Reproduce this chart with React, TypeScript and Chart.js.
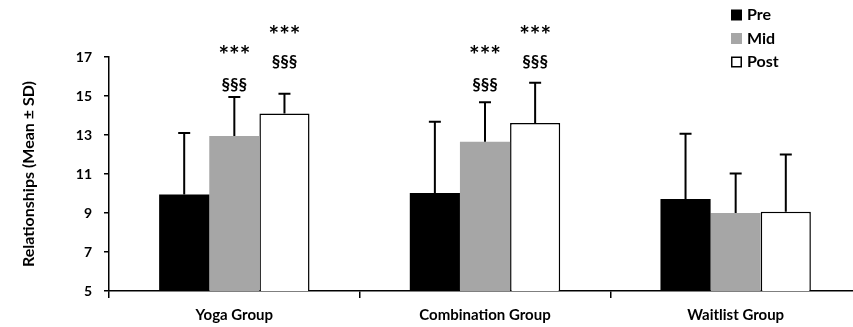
import React, { useEffect, useRef } from "react";
import { Chart, registerables } from "chart.js";

Chart.register(...registerables);

const categories = ["Yoga Group", "Combination Group", "Waitlist Group"];
const seriesNames = ["Pre", "Mid", "Post"];
const preMeans = [9.95, 10.02, 9.72];
const midMeans = [12.95, 12.66, 9.0];
const postMeans = [14.1, 13.62, 9.07];
const preSD = [3.15, 3.66, 3.35];
const midSD = [2.0, 2.02, 2.02];
const postSD = [1.02, 2.06, 2.93];
const midStars = ["***", "***", ""];
const midSections = ["§§§", "§§§", ""];
const postStars = ["***", "***", ""];
const postSections = ["§§§", "§§§", ""];
const yTicks = [5, 7, 9, 11, 13, 15, 17];

const FONT = "Lato, 'Open Sans', sans-serif";

export default function App() {
  const ref = useRef<HTMLCanvasElement | null>(null);

  useEffect(() => {
    const canvas = ref.current;
    if (!canvas) return;
    const sds = [preSD, midSD, postSD];
    const annotations = [
      null,
      { stars: midStars, sections: midSections, starLevel: 17.3, sectionLevel: 15.6 },
      { stars: postStars, sections: postSections, starLevel: 18.35, sectionLevel: 16.75 },
    ];
    const fills = ["#000000", "#a6a6a6", "#ffffff"];

    const overlay = {
      id: "overlay",
      afterDatasetsDraw(chart: any) {
        const ctx = chart.ctx;
        const y = chart.scales.y;
        ctx.save();
        chart.data.datasets.forEach((ds: any, i: number) => {
          const meta = chart.getDatasetMeta(i);
          meta.data.forEach((el: any, j: number) => {
            const v = ds.data[j];
            const top = y.getPixelForValue(v + sds[i][j]);
            const base = y.getPixelForValue(v);
            ctx.strokeStyle = "#000";
            ctx.lineWidth = 2;
            ctx.beginPath();
            ctx.moveTo(el.x, base);
            ctx.lineTo(el.x, top);
            ctx.moveTo(el.x - 6, top);
            ctx.lineTo(el.x + 6, top);
            ctx.stroke();
            const a = annotations[i];
            if (a) {
              ctx.fillStyle = "#000";
              ctx.textAlign = "center";
              ctx.textBaseline = "middle";
              if (a.stars[j]) {
                ctx.font = `bold 25px ${FONT}`;
                ctx.fillText(a.stars[j], el.x, y.getPixelForValue(a.starLevel) + 5);
              }
              if (a.sections[j]) {
                ctx.font = `bold 17px ${FONT}`;
                ctx.fillText(a.sections[j], el.x, y.getPixelForValue(a.sectionLevel));
              }
            }
          });
        });
        ctx.restore();
      },
      afterDraw(chart: any) {
        const ctx = chart.ctx;
        ctx.save();
        const lx = 731;
        chart.data.datasets.forEach((ds: any, i: number) => {
          const cy = 15 + i * 23.5;
          ctx.fillStyle = ds.backgroundColor;
          ctx.fillRect(lx, cy - 5.5, 11, 11);
          if (ds.borderWidth) {
            ctx.strokeStyle = "#000";
            ctx.lineWidth = 1.5;
            ctx.strokeRect(lx + 0.75, cy - 4.75, 9.5, 9.5);
          }
          ctx.fillStyle = "#000";
          ctx.font = `bold 16px ${FONT}`;
          ctx.textAlign = "left";
          ctx.textBaseline = "middle";
          ctx.fillText(ds.label, lx + 16, cy);
        });
        ctx.restore();
      },
    };

    const chart = new Chart(canvas, {
      type: "bar",
      data: {
        labels: categories,
        datasets: [preMeans, midMeans, postMeans].map((d, i) => ({
          label: seriesNames[i],
          data: d,
          backgroundColor: fills[i],
          borderColor: "#000",
          borderWidth: i === 2 ? 1.5 : 0,
          barPercentage: 1,
          categoryPercentage: 0.6,
        })),
      },
      options: {
        responsive: false,
        animation: false,
        layout: { padding: { top: 57, left: 0, right: 0, bottom: 0 } },
        plugins: { legend: { display: false }, tooltip: { enabled: false } },
        scales: {
          x: {
            afterFit(scale: any) {
              scale.height = 36;
            },
            grid: {
              display: true,
              offset: true,
              drawOnChartArea: false,
              drawTicks: true,
              tickLength: 7,
              color: "#000",
              lineWidth: 1.5,
            },
            border: { display: true, color: "#000", width: 1.5 },
            ticks: {
              color: "#000",
              padding: 8,
              font: { family: FONT, size: 15, weight: "bold" },
            },
          },
          y: {
            min: 5,
            max: 17,
            afterFit(scale: any) {
              scale.width = 109;
            },
            afterBuildTicks(scale: any) {
              scale.ticks = yTicks.map((v) => ({ value: v }));
            },
            grid: {
              display: true,
              drawOnChartArea: false,
              drawTicks: true,
              tickLength: 5,
              color: "#000",
              lineWidth: 1.5,
            },
            border: { display: true, color: "#000", width: 1.5 },
            ticks: {
              color: "#000",
              padding: 12,
              font: { family: FONT, size: 14, weight: "bold" },
            },
            title: {
              display: true,
              text: "Relationships (Mean ± SD)",
              color: "#000",
              padding: { top: 19, bottom: 0 },
              font: { family: FONT, size: 16, weight: "bold" },
            },
          },
        },
      },
      plugins: [overlay],
    } as any);

    return () => chart.destroy();
  }, []);

  return (
    <div style={{ position: "absolute", left: 0, top: 0, width: 853, height: 327, overflow: "hidden" }}>
      <canvas ref={ref} width={861} height={327} style={{ display: "block" }} />
    </div>
  );
}
